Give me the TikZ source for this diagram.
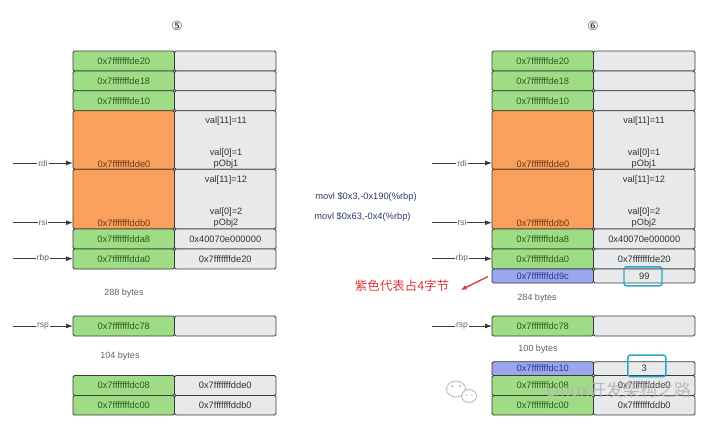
\documentclass[tikz,border=0pt]{standalone}
\usepackage{fontspec}
\setmainfont{Liberation Sans}
\newfontfamily\cjk{Noto Sans CJK SC}
\newfontfamily\dejavu{DejaVu Sans}
\usetikzlibrary{arrows.meta}
\definecolor{cgreen}{HTML}{9EDC86}
\definecolor{corange}{HTML}{F9A05C}
\definecolor{cgray}{HTML}{E7E9EB}
\definecolor{cpurple}{HTML}{9CA6EE}
\definecolor{ccyan}{HTML}{2BA6CC}
\definecolor{cborder}{HTML}{3A3A3A}
\definecolor{tgreen}{HTML}{2F5A1E}
\definecolor{torange}{HTML}{6E3A10}
\definecolor{tpurple}{HTML}{2A3A8C}
\definecolor{tgray}{HTML}{333333}
\definecolor{navy}{HTML}{2E3A70}
\definecolor{cred}{HTML}{D8383A}
\def\pre{0x7fff{}ffff}
\newcommand\memrow[8]{%
  \node[cell,fill=#5,text=#6,minimum height=#4pt,anchor=north west] (#1a) at (#2,#3) {#7};
  \node[cell,fill=cgray,minimum height=#4pt,anchor=north west] (#1b) at (#1a.north east) {#8};
}
\tikzset{
  cell/.style={draw=cborder,line width=0.8pt,rounded corners=1.5pt,minimum width=101.5pt,
    inner sep=0pt,outer sep=0pt,font=\fontsize{9.3}{10}\selectfont,text=tgray},
  ptr/.style={draw=cborder,line width=0.9pt,-{Latex[length=7pt,width=5pt]}},
  reglbl/.style={fill=white,inner sep=1pt,text=gray!80!black,font=\fontsize{8.5}{10}\selectfont},
  vtxt/.style={text=tgray,font=\fontsize{9.2}{10}\selectfont,inner sep=0pt},
  bytes/.style={text=gray!75!black,font=\fontsize{9}{10}\selectfont},
  hl/.style={draw=ccyan,line width=1.4pt,rounded corners=2.5pt,minimum width=38pt,inner sep=0pt},
  code/.style={text=navy,font=\fontsize{9.3}{10}\selectfont},
  circnum/.style={font=\dejavu\fontsize{12.5}{14}\selectfont,text=tgray},
}
\begin{document}
\begin{tikzpicture}[x=1pt,y=-1pt]
\useasboundingbox (0,0) rectangle (720,426);
% ---------------- left stack (5)
\node[circnum] (n5) at (177,26) {⑤};
\memrow{A1}{73}{51}{20}{cgreen}{tgreen}{\pre de20}{}
\memrow{A2}{73}{71}{19.7}{cgreen}{tgreen}{\pre de18}{}
\memrow{A3}{73}{90.7}{20}{cgreen}{tgreen}{\pre de10}{}
\memrow{A4}{73}{110.7}{58.6}{corange}{torange}{}{}
\memrow{A5}{73}{169.3}{59.7}{corange}{torange}{}{}
\memrow{A6}{73}{229}{20}{cgreen}{tgreen}{\pre dda8}{0x40070e000000}
\memrow{A7}{73}{249}{20}{cgreen}{tgreen}{\pre dda0}{\pre de20}
\node[vtxt,text=torange,font=\fontsize{9.3}{10}\selectfont] (A4t) at (124,163.7) {\pre dde0};
\node[vtxt] (A4v1) at (226,120.7) {val[11]=11};
\node[vtxt] (A4v2) at (226,153.3) {val[0]=1};
\node[vtxt] (A4v3) at (226,164.3) {pObj1};
\node[vtxt,text=torange,font=\fontsize{9.3}{10}\selectfont] (A5t) at (124,223) {\pre ddb0};
\node[vtxt] (A5v1) at (226,180) {val[11]=12};
\node[vtxt] (A5v2) at (226,212.3) {val[0]=2};
\node[vtxt] (A5v3) at (226,223.3) {pObj2};
\node[bytes] (A288) at (124,293) {288 bytes};
\memrow{A8}{73}{316}{20}{cgreen}{tgreen}{\pre dc78}{}
\node[bytes] (A104) at (120,356) {104 bytes};
\memrow{A9}{73}{375.5}{20}{cgreen}{tgreen}{\pre dc08}{\pre dde0}
\memrow{A10}{73}{395.5}{19.5}{cgreen}{tgreen}{\pre dc00}{\pre ddb0}
\coordinate (Ardi) at (13,163);
\coordinate (Arsi) at (13,222.7);
\coordinate (Arbp) at (13,258.7);
\coordinate (Arsp) at (13,326);
\draw[ptr] (Ardi) -- node[reglbl]{rdi} (Ardi -| A4a.west);
\draw[ptr] (Arsi) -- node[reglbl]{rsi} (Arsi -| A5a.west);
\draw[ptr] (Arbp) -- node[reglbl]{rbp} (Arbp -| A7a.west);
\draw[ptr] (Arsp) -- node[reglbl]{rsp} (Arsp -| A8a.west);
% ---------------- middle
\node[code] (c1) at (366,196.7) {movl \$0x3,-0x190(\%rbp)};
\node[code] (c2) at (362.5,217) {movl \$0x63,-0x4(\%rbp)};
\node[text=cred,font=\cjk\fontsize{12.5}{14}\selectfont] (red) at (402,286) {紫色代表占4字节};
% ---------------- right stack (6)
\node[circnum] (n6) at (593,26) {⑥};
\memrow{B1}{492}{51}{20}{cgreen}{tgreen}{\pre de20}{}
\memrow{B2}{492}{71}{19.7}{cgreen}{tgreen}{\pre de18}{}
\memrow{B3}{492}{90.7}{20}{cgreen}{tgreen}{\pre de10}{}
\memrow{B4}{492}{110.7}{58.6}{corange}{torange}{}{}
\memrow{B5}{492}{169.3}{59.7}{corange}{torange}{}{}
\memrow{B6}{492}{229}{20}{cgreen}{tgreen}{\pre dda8}{0x40070e000000}
\memrow{B7}{492}{249}{20}{cgreen}{tgreen}{\pre dda0}{\pre de20}
\memrow{B8}{492}{269}{14}{cpurple}{tpurple}{\pre dd9c}{99}
\node[vtxt,text=torange,font=\fontsize{9.3}{10}\selectfont] (B4t) at (543,163.7) {\pre dde0};
\node[vtxt] (B4v1) at (644,120.7) {val[11]=11};
\node[vtxt] (B4v2) at (644,153.3) {val[0]=1};
\node[vtxt] (B4v3) at (644,164.3) {pObj1};
\node[vtxt,text=torange,font=\fontsize{9.3}{10}\selectfont] (B5t) at (543,223) {\pre ddb0};
\node[vtxt] (B5v1) at (644,180) {val[11]=12};
\node[vtxt] (B5v2) at (644,212.3) {val[0]=2};
\node[vtxt] (B5v3) at (644,223.3) {pObj2};
\node[bytes] (B284) at (537,298) {284 bytes};
\memrow{B9}{492}{316}{20}{cgreen}{tgreen}{\pre dc78}{}
\node[bytes] (B100) at (538,349) {100 bytes};
\memrow{B10}{492}{361.7}{13.8}{cpurple}{tpurple}{\pre dc10}{3}
\memrow{B11}{492}{375.5}{20}{cgreen}{tgreen}{\pre dc08}{\pre dde0}
\memrow{B12}{492}{395.5}{19.5}{cgreen}{tgreen}{\pre dc00}{\pre ddb0}
\node[hl,minimum height=19pt] (h99) at (643,276.3) {};
\node[hl,minimum height=21.5pt] (h3) at (646.8,365.8) {};
\coordinate (Brdi) at (432,163);
\coordinate (Brsi) at (432,222.7);
\coordinate (Brbp) at (432,258.7);
\coordinate (Brsp) at (432,326);
\draw[ptr] (Brdi) -- node[reglbl]{rdi} (Brdi -| B4a.west);
\draw[ptr] (Brsi) -- node[reglbl]{rsi} (Brsi -| B5a.west);
\draw[ptr] (Brbp) -- node[reglbl]{rbp} (Brbp -| B7a.west);
\draw[ptr] (Brsp) -- node[reglbl]{rsp} (Brsp -| B9a.west);
\coordinate (redS) at (488,276.5);
\draw[draw=cred,line width=1.3pt,-{Latex[length=6pt,width=5pt]}] (redS) -- ([xshift=8pt,yshift=-4pt]red.east);
% ---------------- watermark
\begin{scope}[opacity=0.85]
\draw[fill=white,draw=gray!70,line width=0.8pt] (456,389) ellipse (9.5pt and 8pt);
\draw[fill=white,draw=gray!70,line width=0.8pt] (469,396) ellipse (7.5pt and 6.5pt);
\fill[gray!70] (452,386) circle (1.1pt) (460,386) circle (1.1pt) (466,395) circle (0.9pt) (472,395) circle (0.9pt);
\node[text=gray!60,font=\cjk\fontsize{17}{19}\selectfont] (wm) at (618.5,390.5) {Linux开发架构之路};
\end{scope}
\end{tikzpicture}
\end{document}
